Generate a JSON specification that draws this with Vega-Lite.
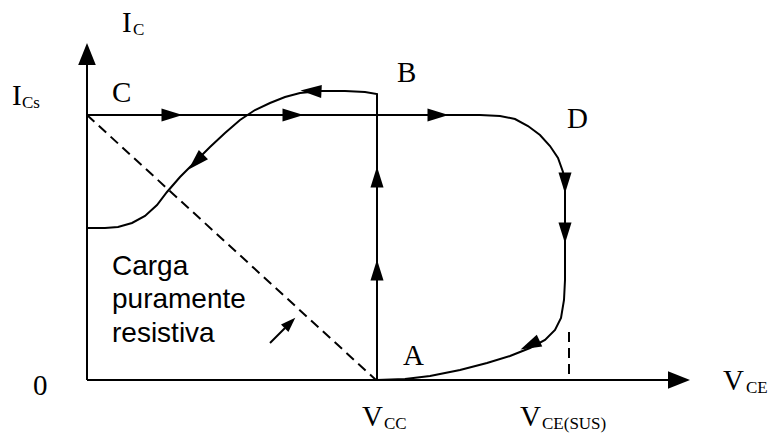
{
  "$schema": "https://vega.github.io/schema/vega-lite/v6.json",
  "width": 775,
  "height": 439,
  "autosize": {"type": "fit", "contains": "padding"},
  "padding": 0,
  "background": "white",
  "config": {"view": {"stroke": null}},
  "datasets": {
    "axes": [
      {"g": "y", "o": 0, "vce": 0, "ic": 0},
      {"g": "y", "o": 1, "vce": 0, "ic": 326},
      {"g": "x", "o": 0, "vce": 0, "ic": 0},
      {"g": "x", "o": 1, "vce": 590, "ic": 0}
    ],
    "paths": [
      {"g": "turnoff", "o": 0, "vce": 0, "ic": 265},
      {"g": "turnoff", "o": 1, "vce": 363, "ic": 265},
      {"g": "turnoff", "o": 2, "vce": 393, "ic": 265},
      {"g": "turnoff", "o": 3, "vce": 413, "ic": 264},
      {"g": "turnoff", "o": 4, "vce": 428, "ic": 261},
      {"g": "turnoff", "o": 5, "vce": 441, "ic": 254},
      {"g": "turnoff", "o": 6, "vce": 453, "ic": 245},
      {"g": "turnoff", "o": 7, "vce": 463, "ic": 234},
      {"g": "turnoff", "o": 8, "vce": 471, "ic": 222},
      {"g": "turnoff", "o": 9, "vce": 476, "ic": 208},
      {"g": "turnoff", "o": 10, "vce": 478, "ic": 190},
      {"g": "turnoff", "o": 11, "vce": 478, "ic": 137},
      {"g": "turnoff", "o": 12, "vce": 478, "ic": 100},
      {"g": "turnoff", "o": 13, "vce": 477, "ic": 80},
      {"g": "turnoff", "o": 14, "vce": 474, "ic": 62},
      {"g": "turnoff", "o": 15, "vce": 468, "ic": 50},
      {"g": "turnoff", "o": 16, "vce": 458, "ic": 40},
      {"g": "turnoff", "o": 17, "vce": 443, "ic": 32},
      {"g": "turnoff", "o": 18, "vce": 423, "ic": 24},
      {"g": "turnoff", "o": 19, "vce": 400, "ic": 17},
      {"g": "turnoff", "o": 20, "vce": 373, "ic": 10},
      {"g": "turnoff", "o": 21, "vce": 343, "ic": 4},
      {"g": "turnoff", "o": 22, "vce": 318, "ic": 1},
      {"g": "turnoff", "o": 23, "vce": 290, "ic": 0},
      {"g": "turnon", "o": 0, "vce": 290, "ic": 0},
      {"g": "turnon", "o": 1, "vce": 290, "ic": 286},
      {"g": "turnon", "o": 2, "vce": 278, "ic": 288},
      {"g": "turnon", "o": 3, "vce": 258, "ic": 289},
      {"g": "turnon", "o": 4, "vce": 233, "ic": 289},
      {"g": "turnon", "o": 5, "vce": 213, "ic": 287},
      {"g": "turnon", "o": 6, "vce": 198, "ic": 283},
      {"g": "turnon", "o": 7, "vce": 183, "ic": 277},
      {"g": "turnon", "o": 8, "vce": 168, "ic": 270},
      {"g": "turnon", "o": 9, "vce": 153, "ic": 260},
      {"g": "turnon", "o": 10, "vce": 138, "ic": 247},
      {"g": "turnon", "o": 11, "vce": 123, "ic": 233},
      {"g": "turnon", "o": 12, "vce": 108, "ic": 218},
      {"g": "turnon", "o": 13, "vce": 93, "ic": 203},
      {"g": "turnon", "o": 14, "vce": 80, "ic": 188},
      {"g": "turnon", "o": 15, "vce": 70, "ic": 175},
      {"g": "turnon", "o": 16, "vce": 58, "ic": 164},
      {"g": "turnon", "o": 17, "vce": 45, "ic": 157},
      {"g": "turnon", "o": 18, "vce": 31, "ic": 153},
      {"g": "turnon", "o": 19, "vce": 18, "ic": 152},
      {"g": "turnon", "o": 20, "vce": 0, "ic": 152},
      {"g": "pointer", "o": 0, "vce": 183, "ic": 37},
      {"g": "pointer", "o": 1, "vce": 198, "ic": 52}
    ],
    "dashed": [
      {"g": "load", "o": 0, "vce": 0, "ic": 265},
      {"g": "load", "o": 1, "vce": 289, "ic": 0},
      {"g": "sus", "o": 0, "vce": 482, "ic": 48},
      {"g": "sus", "o": 1, "vce": 482, "ic": 0}
    ],
    "axisHeads": [
      {"vce": 0, "ic": 326, "direction": 270},
      {"vce": 592, "ic": 0, "direction": 0}
    ],
    "flowHeads": [
      {"vce": 85, "ic": 265, "direction": 0},
      {"vce": 206, "ic": 265, "direction": 0},
      {"vce": 351, "ic": 265, "direction": 0},
      {"vce": 224, "ic": 289, "direction": 183},
      {"vce": 109, "ic": 218, "direction": 135},
      {"vce": 290, "ic": 203, "direction": 270},
      {"vce": 290, "ic": 110, "direction": 270},
      {"vce": 478, "ic": 197, "direction": 90},
      {"vce": 478, "ic": 147, "direction": 90},
      {"vce": 443, "ic": 35, "direction": 155}
    ],
    "pointerHead": [
      {"vce": 203, "ic": 57, "direction": 315}
    ],
    "mainText": [
      {"t": "I", "vce": 35, "ic": 348},
      {"t": "I", "vce": -75, "ic": 275},
      {"t": "C", "vce": 25, "ic": 278},
      {"t": "B", "vce": 310, "ic": 298},
      {"t": "D", "vce": 480, "ic": 252},
      {"t": "A", "vce": 316, "ic": 15},
      {"t": "0", "vce": -54, "ic": -15},
      {"t": "V", "vce": 275, "ic": -46},
      {"t": "V", "vce": 433, "ic": -46},
      {"t": "V", "vce": 636, "ic": -10}
    ],
    "subText": [
      {"t": "C", "vce": 46, "ic": 345},
      {"t": "Cs", "vce": -65, "ic": 272},
      {"t": "CC", "vce": 297, "ic": -49},
      {"t": "CE(SUS)", "vce": 455, "ic": -49},
      {"t": "CE", "vce": 659, "ic": -13}
    ],
    "note": [
      {"t": "Carga", "vce": 25, "ic": 105},
      {"t": "puramente", "vce": 25, "ic": 72},
      {"t": "resistiva", "vce": 25, "ic": 38}
    ]
  },
  "encoding": {
    "x": {"field": "vce", "type": "quantitative", "scale": {"domain": [-87, 688], "nice": false, "zero": false}, "axis": null},
    "y": {"field": "ic", "type": "quantitative", "scale": {"domain": [-59, 380], "nice": false, "zero": false}, "axis": null}
  },
  "layer": [
    {
      "data": {"name": "axes"},
      "mark": {"type": "line", "color": "black", "strokeWidth": 2},
      "encoding": {"detail": {"field": "g"}, "order": {"field": "o"}}
    },
    {
      "data": {"name": "paths"},
      "mark": {"type": "line", "color": "black", "strokeWidth": 2},
      "encoding": {"detail": {"field": "g"}, "order": {"field": "o"}}
    },
    {
      "data": {"name": "dashed"},
      "mark": {"type": "line", "color": "black", "strokeWidth": 2, "strokeDash": [10, 6]},
      "encoding": {"detail": {"field": "g"}, "order": {"field": "o"}}
    },
    {
      "data": {"name": "axisHeads"},
      "mark": {"type": "point", "shape": "M 1 0 L -1 -0.8 L -1 0.8 Z", "filled": true, "color": "black", "opacity": 1, "size": 484},
      "encoding": {"angle": {"field": "direction", "type": "quantitative", "scale": null}}
    },
    {
      "data": {"name": "flowHeads"},
      "mark": {"type": "point", "shape": "M 1 0 L -1 -0.62 L -1 0.62 Z", "filled": true, "color": "black", "opacity": 1, "size": 441},
      "encoding": {"angle": {"field": "direction", "type": "quantitative", "scale": null}}
    },
    {
      "data": {"name": "pointerHead"},
      "mark": {"type": "point", "shape": "M 1 0 L -1 -0.7 L -1 0.7 Z", "filled": true, "color": "black", "opacity": 1, "size": 225},
      "encoding": {"angle": {"field": "direction", "type": "quantitative", "scale": null}}
    },
    {
      "data": {"name": "mainText"},
      "mark": {"type": "text", "font": "Liberation Serif", "fontSize": 29, "align": "left", "baseline": "alphabetic", "color": "black"},
      "encoding": {"text": {"field": "t"}}
    },
    {
      "data": {"name": "subText"},
      "mark": {"type": "text", "font": "Liberation Serif", "fontSize": 17, "align": "left", "baseline": "alphabetic", "color": "black"},
      "encoding": {"text": {"field": "t"}}
    },
    {
      "data": {"name": "note"},
      "mark": {"type": "text", "font": "Liberation Sans", "fontSize": 28, "align": "left", "baseline": "alphabetic", "color": "black"},
      "encoding": {"text": {"field": "t"}}
    }
  ]
}
